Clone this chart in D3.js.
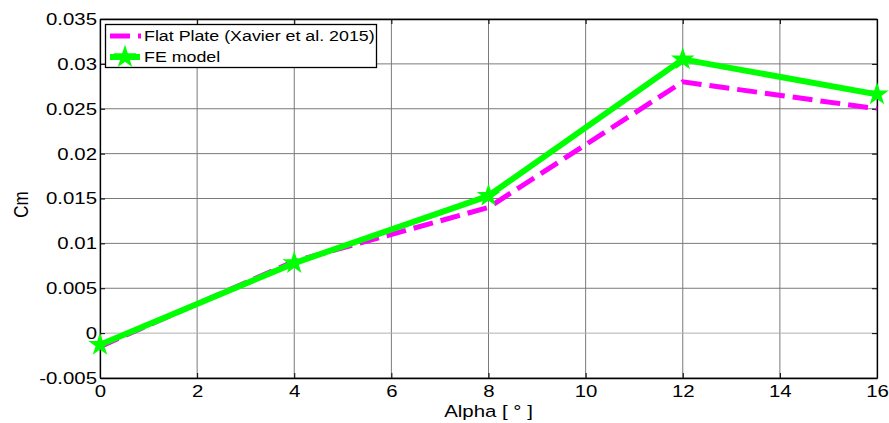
<!DOCTYPE html>
<html>
<head>
<meta charset="utf-8">
<script src="https://cdn.jsdelivr.net/npm/d3@7/dist/d3.min.js"></script>
<style>
  html, body { margin: 0; padding: 0; background: #fff; }
  text { font-family: Arial, "Liberation Sans", sans-serif; fill: #000; }
</style>
</head>
<body>
<svg id="chart" width="889" height="423"></svg>
<script>
// Pitching moment coefficient vs angle of attack
const alpha = [0, 4, 8, 12, 16];
const flatPlate = [-0.0015, 0.008, 0.014, 0.028, 0.025];
const feModel = [-0.0013, 0.0078, 0.0153, 0.0305, 0.0266];
const xTicks = [0, 2, 4, 6, 8, 10, 12, 14, 16];
const yTicks = [-0.005, 0, 0.005, 0.01, 0.015, 0.02, 0.025, 0.03, 0.035];
const seriesNames = ["Flat Plate (Xavier et al. 2015)", "FE model"];

const svg = d3.select("#chart");
const m = { left: 100, right: 877, top: 19, bottom: 378 };
const stretch = 1.2;

const x = d3.scaleLinear().domain([0, 16]).range([m.left, m.right]);
const y = d3.scaleLinear().domain([-0.005, 0.035]).range([m.bottom, m.top]);

// grid
const grid = svg.append("g");
grid.selectAll("line.vx").data(xTicks).join("line")
  .attr("x1", d => x(d)).attr("x2", d => x(d))
  .attr("y1", m.top).attr("y2", m.bottom)
  .attr("stroke", "#7a7a7a").attr("stroke-width", 1);
grid.selectAll("line.hy").data(yTicks).join("line")
  .attr("x1", m.left).attr("x2", m.right)
  .attr("y1", d => y(d)).attr("y2", d => y(d))
  .attr("stroke", d => d === 0 ? "#b0b0b0" : "#7a7a7a").attr("stroke-width", 1);

// axes with inward ticks
const fmtY = d => d === 0 ? "0" : String(+d.toFixed(3));
const xAxisB = d3.axisBottom(x).tickValues(xTicks).tickSizeInner(-5).tickSizeOuter(0).tickPadding(7);
const yAxisL = d3.axisLeft(y).tickValues(yTicks).tickSizeInner(-5).tickSizeOuter(0).tickPadding(3).tickFormat(fmtY);
const gx = svg.append("g").attr("transform", `translate(0,${m.bottom})`).call(xAxisB);
const gy = svg.append("g").attr("transform", `translate(${m.left},0)`).call(yAxisL);
svg.append("g").attr("transform", `translate(0,${m.top})`)
  .call(d3.axisTop(x).tickValues(xTicks).tickSizeInner(-5).tickSizeOuter(0).tickFormat(""));
svg.append("g").attr("transform", `translate(${m.right},0)`)
  .call(d3.axisRight(y).tickValues(yTicks).tickSizeInner(-5).tickSizeOuter(0).tickFormat(""));
svg.selectAll(".domain").attr("stroke", "#000").attr("stroke-width", 1.3);
svg.selectAll(".tick line").attr("stroke", "#000");

gx.selectAll(".tick text").attr("font-size", 17)
  .attr("transform", `scale(${stretch},1)`)
  .attr("dy", "0.71em");
gy.selectAll(".tick text").attr("font-size", 17)
  .attr("transform", `scale(${stretch},1)`)
  .attr("x", -3 / stretch);

// lines
const line = (vals) => d3.line().x((d, i) => x(alpha[i])).y(d => y(d))(vals);
svg.append("path").attr("d", line(flatPlate))
  .attr("fill", "none").attr("stroke", "#ff00ff").attr("stroke-width", 5)
  .attr("stroke-dasharray", "20,8");
svg.append("path").attr("d", line(feModel))
  .attr("fill", "none").attr("stroke", "#00ff00").attr("stroke-width", 6)
  .attr("stroke-linejoin", "round");

const star = d3.symbol().type(d3.symbolStar).size(110);
svg.selectAll("path.mk").data(feModel).join("path")
  .attr("transform", (d, i) => `translate(${x(alpha[i])},${y(d)})`)
  .attr("d", star).attr("fill", "#00ff00").attr("stroke", "#00ff00").attr("stroke-width", 1.5);

// axis titles
svg.append("text").attr("font-size", 17).attr("text-anchor", "middle")
  .attr("transform", `translate(${(m.left + m.right) / 2},417) scale(${stretch},1)`)
  .text("Alpha [ ° ]");
svg.append("text").attr("font-size", 17).attr("text-anchor", "middle")
  .attr("transform", `translate(28,${(m.top + m.bottom) / 2 + 6}) rotate(-90) scale(1,${stretch})`)
  .text("Cm");

// legend
const lg = svg.append("g");
lg.append("rect").attr("x", 105.5).attr("y", 24.5).attr("width", 271).attr("height", 43)
  .attr("fill", "#fff").attr("stroke", "#000").attr("stroke-width", 1.3);
lg.append("line").attr("x1", 110).attr("x2", 141).attr("y1", 36).attr("y2", 36)
  .attr("stroke", "#ff00ff").attr("stroke-width", 5).attr("stroke-dasharray", "20,8");
lg.append("line").attr("x1", 110).attr("x2", 140).attr("y1", 57).attr("y2", 57)
  .attr("stroke", "#00ff00").attr("stroke-width", 6);
lg.append("path").attr("transform", "translate(125,57)").attr("d", star)
  .attr("fill", "#00ff00").attr("stroke", "#00ff00").attr("stroke-width", 1.5);
lg.selectAll("text").data(seriesNames).join("text")
  .attr("font-size", 15.5)
  .attr("transform", (d, i) => `translate(144,${41 + i * 21}) scale(1.15,1)`)
  .text(d => d);
</script>
</body>
</html>
